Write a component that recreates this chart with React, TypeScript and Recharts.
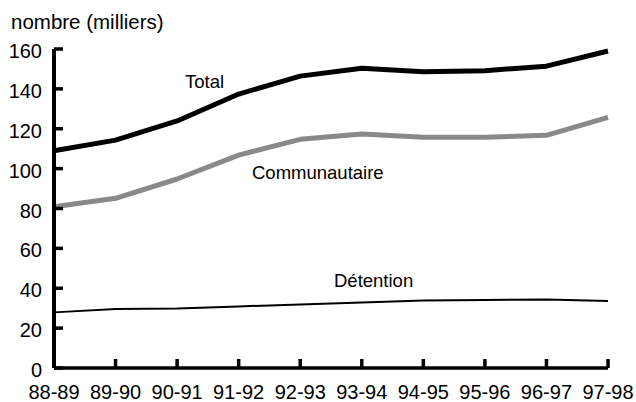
import { LineChart, Line, XAxis, YAxis } from 'recharts';

const periods = ['88-89', '89-90', '90-91', '91-92', '92-93', '93-94', '94-95', '95-96', '96-97', '97-98'];
const total = [109, 114.3, 123.9, 137.4, 146.4, 150.3, 148.6, 149.1, 151.4, 159];
const communautaire = [80.9, 85.1, 94.8, 106.8, 114.7, 117.4, 115.7, 115.7, 116.7, 125.7];
const detention = [27.9, 29.6, 29.9, 30.9, 31.9, 32.9, 33.8, 34.1, 34.4, 33.6];
const yTicks = [0, 20, 40, 60, 80, 100, 120, 140, 160];

const data = periods.map((p, i) => ({
    period: p,
    total: total[i],
    communautaire: communautaire[i],
    detention: detention[i],
}));

const FONT = '"Liberation Sans", Arial, sans-serif';

// ticks point inward, so draw them ourselves
const LeftTick = ({ x, y, payload }: any) => (
    <g>
        <line x1={x} x2={x + 9} y1={y} y2={y} stroke="#000" strokeWidth={3.5} />
        <text x={x - 12} y={y + 9} textAnchor="end" fontSize={20} fontFamily={FONT} fill="#000">
            {payload.value}
        </text>
    </g>
);

const RightTick = ({ x, y }: any) => (
    <line x1={x} x2={x - 9} y1={y} y2={y} stroke="#000" strokeWidth={3.5} />
);

const BottomTick = ({ x, y, payload }: any) => (
    <g>
        <line x1={x} x2={x} y1={y} y2={y - 9} stroke="#000" strokeWidth={3.5} />
        <text x={x} y={y + 31} textAnchor="middle" fontSize={20} fontFamily={FONT} fill="#000">
            {payload.value}
        </text>
    </g>
);

const labelStyle: React.CSSProperties = {
    position: 'absolute',
    fontFamily: FONT,
    fontSize: 18.5,
    lineHeight: 1,
    color: '#000',
    whiteSpace: 'nowrap',
};

export default function App() {
    return (
        <div style={{ position: 'absolute', left: 0, top: 0, width: 636, height: 402, background: '#fff' }}>
            <div style={{ ...labelStyle, fontSize: 20.5, left: 11, top: 12 }}>nombre (milliers)</div>
            <LineChart
                width={636}
                height={402}
                data={data}
                margin={{ top: 49, right: 28, bottom: 4, left: 0 }}
            >
                <XAxis
                    dataKey="period"
                    height={30}
                    interval={0}
                    tickSize={0}
                    tickMargin={0}
                    tickLine={false}
                    tick={<BottomTick />}
                    axisLine={{ stroke: '#000', strokeWidth: 3.5 }}
                />
                <XAxis
                    xAxisId="top"
                    dataKey="period"
                    orientation="top"
                    height={0}
                    tick={false}
                    tickLine={false}
                    axisLine={{ stroke: '#000', strokeWidth: 4 }}
                />
                <YAxis
                    width={54}
                    domain={[0, 160]}
                    ticks={yTicks}
                    interval={0}
                    tickSize={0}
                    tickMargin={0}
                    tickLine={false}
                    tick={<LeftTick />}
                    axisLine={{ stroke: '#000', strokeWidth: 4 }}
                />
                <YAxis
                    yAxisId="right"
                    orientation="right"
                    width={0}
                    domain={[0, 160]}
                    ticks={yTicks}
                    interval={0}
                    tickSize={0}
                    tickMargin={0}
                    tickLine={false}
                    tick={<RightTick />}
                    axisLine={{ stroke: '#000', strokeWidth: 3.5 }}
                />
                <Line
                    type="linear"
                    dataKey="detention"
                    stroke="#000"
                    strokeWidth={2}
                    dot={false}
                    activeDot={false}
                    isAnimationActive={false}
                />
                <Line
                    type="linear"
                    dataKey="communautaire"
                    stroke="#898989"
                    strokeWidth={5}
                    strokeLinejoin="round"
                    dot={false}
                    activeDot={false}
                    isAnimationActive={false}
                />
                <Line
                    type="linear"
                    dataKey="total"
                    stroke="#000"
                    strokeWidth={5}
                    strokeLinejoin="round"
                    dot={false}
                    activeDot={false}
                    isAnimationActive={false}
                />
            </LineChart>
            <div style={{ ...labelStyle, left: 185, top: 73 }}>Total</div>
            <div style={{ ...labelStyle, left: 252, top: 164 }}>Communautaire</div>
            <div style={{ ...labelStyle, left: 334, top: 272 }}>Détention</div>
        </div>
    );
}
